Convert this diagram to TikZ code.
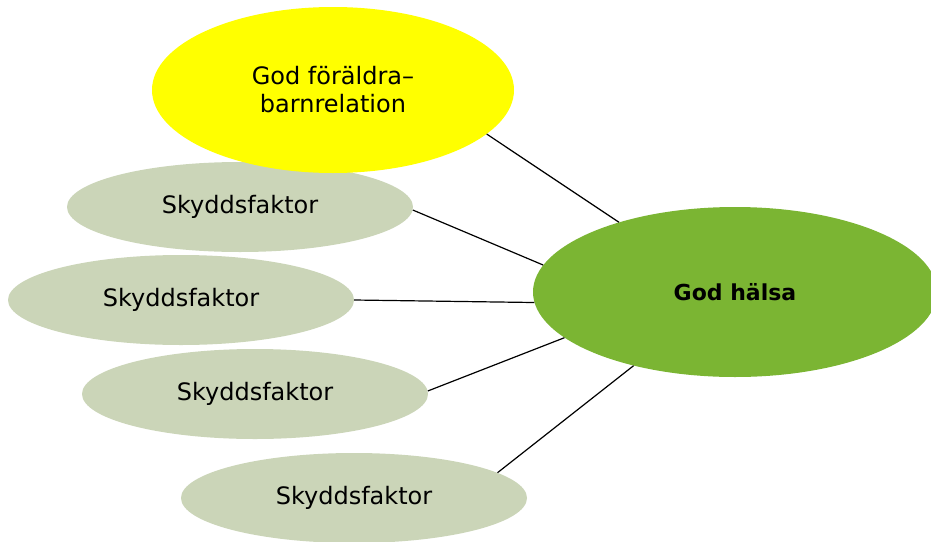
\documentclass[tikz,border=0pt]{standalone}
\usepackage{fontspec}
\setmainfont{DejaVu Sans}
\usetikzlibrary{shapes.geometric}

\definecolor{factorgreen}{HTML}{CBD5B8}
\definecolor{healthgreen}{HTML}{7BB533}
\definecolor{parentyellow}{HTML}{FFFF00}

\begin{document}
\begin{tikzpicture}[
  x=1pt, y=1pt,
  font=\fontsize{24}{28}\selectfont,
  every node/.style={align=center},
  factor/.style={ellipse, fill=factorgreen, inner sep=0pt, minimum width=346pt, minimum height=90pt},
  relation/.style={ellipse, fill=parentyellow, inner sep=0pt, minimum width=362pt, minimum height=166pt},
  health/.style={ellipse, fill=healthgreen, inner sep=0pt, minimum width=404pt, minimum height=170pt, font=\fontsize{22}{28}\selectfont\bfseries},
  link/.style={-, line width=1.2pt}]

  \useasboundingbox (0,0) rectangle (931,-541);

  % Protective factors first, so the yellow one lies on top
  \node[factor] (factor-a) at (240,-207) {Skyddsfaktor};
  \node[factor] (factor-b) at (181,-300) {Skyddsfaktor};
  \node[factor] (factor-c) at (255,-394) {Skyddsfaktor};
  \node[factor] (factor-d) at (354,-498) {Skyddsfaktor};
  \node[relation] (relation) at (333,-90) {God föräldra–\\barnrelation};
  \node[health] (health) at (735,-292) {God hälsa};

  \draw[link] (relation.-16) -- (health.149);
  \draw[link] (factor-a.-1) -- (health.172);
  \draw[link] (factor-b.0) -- (health.183);
  \draw[link] (factor-c.1) -- (health.195);
  \draw[link] (factor-d.10) -- (health.216);

\end{tikzpicture}
\end{document}
